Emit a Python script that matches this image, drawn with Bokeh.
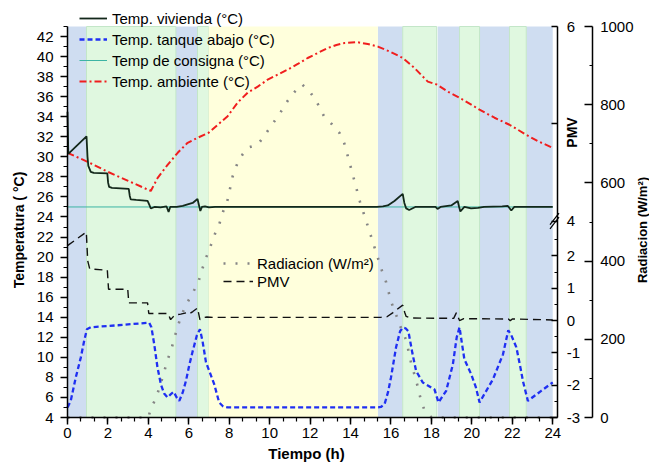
import math
from bokeh.plotting import figure
from bokeh.models import (Range1d, LinearAxis, FixedTicker, SingleIntervalTicker, Legend,
                          LegendItem, Label, CustomJSTickFormatter)
from bokeh.embed import file_html
from bokeh.resources import INLINE

# ---------------- data ----------------
# background periods (h)
band_start = [0.0, 0.94, 5.36, 6.43, 6.98, 15.35, 16.58, 18.31, 19.39, 20.38, 21.86, 22.69]
band_end = [0.94, 5.36, 6.43, 6.98, 15.35, 16.58, 18.26, 19.39, 20.38, 21.86, 22.69, 24.0]
band_kind = ["b", "g", "b", "g", "y", "b", "g", "b", "g", "b", "g", "b"]

# Temp. vivienda (°C)
t_viv = [0, 0.04, 0.94, 0.99, 1.03, 1.15, 1.3, 1.97, 2.01, 2.06, 2.2, 3.03, 3.08, 3.13, 3.4, 3.96,
         4.05, 4.12, 4.3, 4.6, 4.9, 5.0, 5.08, 5.4, 5.7, 5.94, 6.19, 6.43, 6.5, 6.57, 6.65, 6.8, 7.0,
         7.3, 15.3, 15.6, 15.84, 16.17, 16.58, 16.66, 16.75, 16.9, 17.2, 18.2, 18.3, 18.45, 18.98,
         19.3, 19.37, 19.43, 19.63, 19.96, 20.3, 20.6, 21.5, 21.78, 21.95, 22.1, 24.0]
temp_viv = [34.5, 30.3, 32.05, 30.0, 29.1, 28.5, 28.4, 28.35, 27.4, 27.0, 26.9, 26.8, 26.1, 25.75,
            25.7, 25.6, 25.2, 24.85, 25.0, 24.95, 25.05, 24.5, 25.0, 25.0, 25.1, 25.25, 25.4, 25.8,
            25.2, 24.6, 25.0, 25.05, 24.95, 25.0, 25.0, 25.05, 25.15, 25.6, 26.3, 25.4, 24.86, 24.7,
            25.0, 25.0, 24.8, 25.0, 25.15, 25.6, 25.0, 24.55, 25.0, 24.85, 24.9, 25.0, 25.05, 25.1,
            24.65, 25.0, 25.0]

# Temp. tanque abajo (°C)
t_tan = [0, 0.16, 0.41, 0.66, 0.82, 0.96, 1.15, 2.5, 4.04, 4.15, 4.29, 4.45, 4.62, 4.78, 4.95,
         5.1, 5.25, 5.4, 5.53, 5.7, 5.86, 6.02, 6.19, 6.4, 6.55, 6.68, 6.85, 7.01, 7.26, 7.5, 7.7,
         7.92, 15.3, 15.5, 15.68, 15.85, 16.0, 16.25, 16.45, 16.58, 16.72, 16.86, 17.05, 17.24,
         17.57, 18.15, 18.35, 18.73, 19.06, 19.25, 19.39, 19.5, 19.63, 19.97, 20.2, 20.38, 21.04,
         21.54, 21.8, 21.95, 22.2, 22.4, 22.53, 22.77, 23.43, 24.0]
temp_tan = [5.0, 5.66, 8.0, 10.0, 11.6, 12.8, 13.0, 13.2, 13.46, 13.0, 11.3, 9.0, 7.3, 6.4, 6.0,
            6.3, 6.56, 6.0, 5.66, 6.5, 7.66, 9.2, 10.6, 12.2, 12.8, 11.6, 9.5, 8.65, 7.3, 5.5, 5.1,
            5.0, 5.0, 5.05, 5.33, 6.5, 8.0, 11.0, 12.6, 12.96, 12.9, 12.6, 10.5, 8.65, 7.5, 6.8,
            5.5, 6.66, 9.3, 12.0, 13.0, 11.5, 9.8, 8.3, 7.0, 5.5, 7.8, 10.3, 12.7, 12.2, 11.0, 9.0,
            7.6, 5.66, 6.66, 7.5]

# Temp de consigna (°C)
t_con = [0, 24]
temp_con = [25, 25]

# Temp. ambiente (°C)
t_amb = [0, 1, 2, 3, 4.12, 4.46, 4.95, 5.45, 5.94, 6.43, 6.98, 7.43, 7.92, 8.41, 8.91, 9.41, 9.9,
         10.4, 10.89, 11.39, 11.88, 12.38, 12.87, 13.3, 13.7, 14.3, 14.85, 15.35, 16.0, 16.58,
         17.16, 17.82, 18.28, 18.81, 19.39, 19.97, 20.38, 21.12, 21.86, 22.69, 23.27, 24.0]
temp_amb = [30.4, 29.5, 28.5, 27.6, 26.6, 27.9, 29.2, 30.4, 31.4, 31.9, 32.4, 33.2, 34.05, 35.4,
            36.4, 37.0, 37.7, 38.2, 38.7, 39.26, 39.86, 40.36, 40.85, 41.15, 41.35, 41.45, 41.25,
            41.0, 40.45, 39.86, 38.86, 37.5, 37.2, 36.5, 35.9, 35.2, 34.7, 33.9, 33.2, 32.2, 31.56,
            30.9]

# Radiacion (W/m2)
t_rad = [0, 1, 2, 3, 4.0, 4.12, 4.37, 4.59, 4.78, 4.95, 5.17, 5.4, 5.61, 5.86, 6.19, 6.48, 6.68,
         6.88, 7.1, 7.31, 7.5, 7.67, 7.92, 8.17, 8.41, 8.66, 8.91, 9.41, 9.73, 10.06, 10.47, 10.89,
         11.22, 11.6, 11.99, 12.3, 12.7, 13.08, 13.45, 13.69, 13.86, 14.14, 14.47, 14.85, 15.18,
         15.55, 15.76, 16.0, 16.25, 16.5, 16.75, 17.0, 17.24, 17.46, 17.65, 18.0, 20.0, 22.0, 24.0]
rad = [0, 0, 0, 0, 0, 23, 49, 83, 117, 147, 181, 224, 258, 288, 318, 348, 382, 412, 442, 472, 493,
       523, 557, 617, 651, 673, 690, 698, 720, 745, 775, 810, 832, 852, 833, 810, 769, 750, 728,
       701, 669, 615, 551, 490, 436, 376, 346, 297, 263, 228, 198, 138, 96, 49, 19, 0, 0, 0, 0]

# PMV
t_pmv = [0, 0.93, 1.0, 1.1, 1.97, 2.03, 2.98, 3.03, 3.96, 4.02, 4.98, 5.05, 5.1, 5.2, 5.3, 5.6,
         5.86, 6.0, 6.2, 6.43, 6.55, 6.7, 6.9, 7.2, 15.5, 15.8, 16.08, 16.58, 16.68, 16.75, 17.0,
         19.1, 19.23, 19.39, 19.6, 21.8, 21.9, 22.0, 24.0]
pmv = [2.32, 2.74, 1.85, 1.6, 1.56, 0.97, 0.97, 0.55, 0.55, 0.22, 0.22, 0.1, 0.03, 0.1, 0.17, 0.2,
       0.24, 0.2, 0.28, 0.39, 0.03, 0.09, 0.11, 0.1, 0.1, 0.12, 0.24, 0.48, 0.25, 0.13, 0.08, 0.07,
       0.24, 0.0, 0.06, 0.05, 0.0, 0.05, 0.02]

# axis ticks
x_ticks_step = 2
temp_ticks_step = 2
pmv_lower_ticks = [-3, -2, -1, 0, 1, 2]
pmv_lower_minor = [-2.5, -1.5, -0.5, 0.5, 1.5, 2.5]
pmv_upper_vals = [4, 5, 6]
pmv_upper_labels = ["4", "", "6"]
rad_ticks = [0, 200, 400, 600, 800, 1000]
rad_minor = [100, 300, 500, 700, 900]

# ---------------- layout / styling ----------------
FONT = "Liberation Sans"
W, H = 649, 462
band_colors = {"b": "#cfddf1", "g": "#e0f8e0", "y": "#ffffdc"}
band_lines = {"b": None, "g": "#c3e6c8", "y": None}

# plotting box of the original chart (pixels): the whole canvas is the Bokeh frame,
# axes are drawn at fixed locations inside it
BOX_L, BOX_R, BOX_T, BOX_B = 67.0, 557.3, 26.0, 417.0
X0, X1 = 0.0, 24.25                  # time axis span
T0, T1 = 4.0, 43.0                   # temperature axis span
PMV_MIN, PMV_TOP = -3.0, 9.105       # PMV axis span (lower scale units)
R0, R1 = 0.0, 1000.0                 # radiation axis span
RAD_AXIS_PX = 591.7                  # x pixel of the radiation axis


def span(v0, v1, p0, p1, lo, hi):
    """range that maps v0->p0, v1->p1 and covers pixels lo..hi"""
    k = (v1 - v0) / (p1 - p0)
    return Range1d(v0 + (lo - p0) * k, v0 + (hi - p0) * k)


x_rng = span(X0, X1, BOX_L, BOX_R, 0, W)
y_rng = span(T0, T1, BOX_B, BOX_T, H, 0)
pmv_rng = span(PMV_MIN, PMV_TOP, BOX_B, BOX_T, H, 0)
rad_rng = span(R0, R1, BOX_B, BOX_T, H, 0)
px_per_h = (BOX_R - BOX_L) / (X1 - X0)
px_per_deg = (BOX_B - BOX_T) / (T1 - T0)


def xd(px):
    return X0 + (px - BOX_L) / px_per_h


def yd(py):
    return T0 + (BOX_B - py) / px_per_deg


PMV_BREAK_POS = 3.07
up_step = (PMV_TOP - PMV_BREAK_POS) / (pmv_upper_vals[-1] - pmv_upper_vals[0])
pmv_upper_pos = [PMV_BREAK_POS + (v - pmv_upper_vals[0]) * up_step for v in pmv_upper_vals]

p = figure(width=W, height=H, x_range=x_rng, y_range=y_rng,
           output_backend="svg", toolbar_location=None,
           min_border_left=0, min_border_right=0, min_border_top=0, min_border_bottom=0)
p.outline_line_color = None
p.xgrid.visible = False
p.ygrid.visible = False
p.background_fill_color = "white"
p.border_fill_color = "white"
p.extra_y_ranges = {"pmv": pmv_rng, "rad": rad_rng}

# bands
for kind in ["b", "g", "y"]:
    ls = [s for s, k in zip(band_start, band_kind) if k == kind]
    rs = [e for e, k in zip(band_end, band_kind) if k == kind]
    p.quad(left=ls, right=rs, bottom=T0, top=T1, fill_color=band_colors[kind],
           line_color=band_lines[kind], line_width=1)

# series
r_rad = p.line(t_rad, rad, y_range_name="rad", line_color="#858585", line_width=2.6,
               line_dash="2 10")
r_pmv = p.line(t_pmv, pmv, y_range_name="pmv", line_color="#111111", line_width=1.4,
               line_dash="8 5")
r_tan = p.line(t_tan, temp_tan, line_color="#1f2ff2", line_width=2.3, line_dash="5 3")
r_amb = p.line(t_amb, temp_amb, line_color="#f01e1e", line_width=2.0, line_dash="7 3 2 3")
r_con = p.line(t_con, temp_con, line_color="#3cb4a4", line_width=1.0)
r_viv = p.line(t_viv, temp_viv, line_color="#13281b", line_width=1.8)


def style_axis(ax, size="15px"):
    ax.axis_line_width = 1.5
    ax.axis_line_color = "#000000"
    ax.major_tick_line_width = 1.5
    ax.minor_tick_line_width = 1.2
    ax.major_tick_line_color = "#000000"
    ax.minor_tick_line_color = "#000000"
    ax.major_label_text_font = FONT
    ax.major_label_text_font_size = size
    ax.major_label_text_color = "#000000"


xa = p.xaxis[0]
xa.ticker = SingleIntervalTicker(interval=x_ticks_step, num_minor_ticks=3)
style_axis(xa)
xa.fixed_location = T0
xa.bounds = (X0, X1)
xa.major_tick_in, xa.major_tick_out = 0, 7
xa.minor_tick_in, xa.minor_tick_out = 0, 4
xa.major_label_standoff = 3

ya = p.yaxis[0]
ya.ticker = SingleIntervalTicker(interval=temp_ticks_step, num_minor_ticks=2)
style_axis(ya)
ya.fixed_location = X0
ya.bounds = (T0, T1)
ya.major_tick_in, ya.major_tick_out = 0, 7
ya.minor_tick_in, ya.minor_tick_out = 0, 4
ya.major_label_standoff = 7

pmv_fmt = CustomJSTickFormatter(args=dict(pos=pmv_upper_pos, lab=pmv_upper_labels), code="""
for (let i = 0; i < pos.length; i++) { if (Math.abs(tick - pos[i]) < 1e-6) return lab[i]; }
return tick.toFixed(0);
""")
pmv_axis = LinearAxis(y_range_name="pmv",
                      ticker=FixedTicker(ticks=pmv_lower_ticks + pmv_upper_pos,
                                         minor_ticks=pmv_lower_minor),
                      formatter=pmv_fmt)
style_axis(pmv_axis)
pmv_axis.fixed_location = X1
pmv_axis.bounds = (PMV_MIN, PMV_TOP)
pmv_axis.major_tick_in, pmv_axis.major_tick_out = 6, 0
pmv_axis.minor_tick_in, pmv_axis.minor_tick_out = 3, 0
pmv_axis.major_label_standoff = 9
p.add_layout(pmv_axis, "right")

rad_axis = LinearAxis(y_range_name="rad", ticker=FixedTicker(ticks=rad_ticks, minor_ticks=rad_minor))
style_axis(rad_axis)
rad_axis.fixed_location = xd(RAD_AXIS_PX)
rad_axis.bounds = (R0, R1)
rad_axis.major_tick_in, rad_axis.major_tick_out = 8, 0
rad_axis.minor_tick_in, rad_axis.minor_tick_out = 3, 0
rad_axis.major_label_standoff = 8
p.add_layout(rad_axis, "right")

# axis break marks on the PMV axis
p.segment(x0=[xd(549.5), xd(549.5)], y0=[2.84, 2.97], x1=[xd(558.5), xd(558.5)], y1=[3.2, 3.33],
          y_range_name="pmv", line_color="#000000", line_width=1.2)


def title(text, px, py, size, vertical):
    p.add_layout(Label(x=xd(px), y=yd(py), text=text, angle=math.pi / 2 if vertical else 0,
                       text_align="center", text_baseline="middle", text_font=FONT,
                       text_font_style="bold", text_font_size=size, text_color="#000000"))


title("Temperatura ( °C)", 18, 229.5, "14px", True)
title("Tiempo (h)", 306, 453, "15px", False)
title("PMV", 571, 132, "14px", True)
title("Radiacion (W/m²)", 642, 229.5, "13px", True)

# legends (location = offset of the legend's lower-left corner from the canvas' lower-left)
leg1 = Legend(items=[LegendItem(label="Temp. vivienda (°C)", renderers=[r_viv]),
                     LegendItem(label="Temp. tanque abajo (°C)", renderers=[r_tan]),
                     LegendItem(label="Temp de consigna (°C)", renderers=[r_con]),
                     LegendItem(label="Temp. ambiente (°C)", renderers=[r_amb])],
              location=(79, H - 91), padding=0, margin=0, spacing=1, glyph_height=20,
              glyph_width=28, label_height=20, label_standoff=5, border_line_alpha=0,
              background_fill_alpha=0, label_text_font=FONT, label_text_font_size="15px",
              label_text_color="#000000")
leg2 = Legend(items=[LegendItem(label="Radiacion (W/m²)", renderers=[r_rad]),
                     LegendItem(label="PMV", renderers=[r_pmv])],
              location=(223, H - 290), padding=0, margin=0, spacing=0, glyph_height=18,
              glyph_width=30, label_height=18, label_standoff=4, border_line_alpha=0,
              background_fill_alpha=0, label_text_font=FONT, label_text_font_size="15px",
              label_text_color="#000000")
p.add_layout(leg1)
p.add_layout(leg2)

open("out.html", "w").write(file_html(p, INLINE))
